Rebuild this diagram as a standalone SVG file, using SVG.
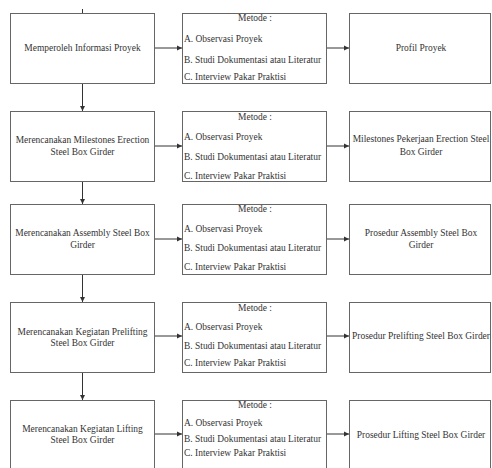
<svg xmlns="http://www.w3.org/2000/svg" width="492" height="468" viewBox="0 0 492 468">
<defs>
<marker id="ah" markerWidth="6" markerHeight="6" refX="5" refY="3" orient="auto" markerUnits="userSpaceOnUse">
<path d="M0,0.5 L5,3 L0,5.5 Z" fill="#333"/>
</marker>
<style>
.box{fill:#fff;stroke:#666;stroke-width:1}
.t{font-family:"Liberation Serif","Times New Roman",serif;font-size:9.45px;fill:#333}
.c{text-anchor:middle}
.ln{stroke:#333;stroke-width:1;fill:none;marker-end:url(#ah)}
</style>
</defs>
<rect width="492" height="468" fill="#fff"/>

<g id="connectors">
<line x1="82.5" y1="9" x2="82.5" y2="13" stroke="#333"/>
<line class="ln" x1="82.5" y1="83" x2="82.5" y2="111"/>
<line class="ln" x1="82.5" y1="181" x2="82.5" y2="204"/>
<line class="ln" x1="82.5" y1="274" x2="82.5" y2="302"/>
<line class="ln" x1="82.5" y1="372" x2="82.5" y2="400"/>
<line class="ln" x1="154" y1="48" x2="182" y2="48"/>
<line class="ln" x1="326" y1="48" x2="349" y2="48"/>
<line class="ln" x1="154" y1="146" x2="182" y2="146"/>
<line class="ln" x1="326" y1="146" x2="349" y2="146"/>
<line class="ln" x1="154" y1="239" x2="182" y2="239"/>
<line class="ln" x1="326" y1="239" x2="349" y2="239"/>
<line class="ln" x1="154" y1="336" x2="182" y2="336"/>
<line class="ln" x1="326" y1="336" x2="349" y2="336"/>
<line class="ln" x1="154" y1="434" x2="182" y2="434"/>
<line class="ln" x1="326" y1="434" x2="349" y2="434"/>
</g>

<g id="step1">
<rect class="box" x="10.5" y="13.5" width="144" height="70"/>
<text class="t c" x="82.5" y="51">Memperoleh Informasi Proyek</text>
</g>
<g id="method1">
<rect class="box" x="182.5" y="13.5" width="144" height="70"/>
<text class="t c" x="255" y="21">Metode :</text>
<text class="t" x="184" y="42">A. Observasi Proyek</text>
<text class="t" x="184" y="63">B. Studi Dokumentasi atau Literatur</text>
<text class="t" x="184" y="80">C. Interview Pakar Praktisi</text>
</g>
<g id="result1">
<rect class="box" x="349.5" y="13.5" width="141" height="70"/>
<text class="t c" x="421" y="51">Profil Proyek</text>
</g>

<g id="step2">
<rect class="box" x="10.5" y="111.5" width="144" height="70"/>
<text class="t c" x="82.5" y="143">Merencanakan Milestones Erection</text>
<text class="t c" x="82.5" y="155">Steel Box Girder</text>
</g>
<g id="method2">
<rect class="box" x="182.5" y="111.5" width="144" height="70"/>
<text class="t c" x="255" y="120">Metode :</text>
<text class="t" x="184" y="140">A. Observasi Proyek</text>
<text class="t" x="184" y="160">B. Studi Dokumentasi atau Literatur</text>
<text class="t" x="184" y="179">C. Interview Pakar Praktisi</text>
</g>
<g id="result2">
<rect class="box" x="349.5" y="111.5" width="141" height="70"/>
<text class="t c" x="421" y="142">Milestones Pekerjaan Erection Steel</text>
<text class="t c" x="421" y="155">Box Girder</text>
</g>

<g id="step3">
<rect class="box" x="10.5" y="204.5" width="144" height="70"/>
<text class="t c" x="82.5" y="236">Merencanakan Assembly Steel Box</text>
<text class="t c" x="82.5" y="248">Girder</text>
</g>
<g id="method3">
<rect class="box" x="182.5" y="204.5" width="144" height="70"/>
<text class="t c" x="255" y="212">Metode :</text>
<text class="t" x="184" y="232">A. Observasi Proyek</text>
<text class="t" x="184" y="251">B. Studi Dokumentasi atau Literatur</text>
<text class="t" x="184" y="270">C. Interview Pakar Praktisi</text>
</g>
<g id="result3">
<rect class="box" x="349.5" y="204.5" width="141" height="70"/>
<text class="t c" x="421" y="236">Prosedur Assembly Steel Box</text>
<text class="t c" x="421" y="248">Girder</text>
</g>

<g id="step4">
<rect class="box" x="10.5" y="302.5" width="144" height="70"/>
<text class="t c" x="82.5" y="335">Merencanakan Kegiatan Prelifting</text>
<text class="t c" x="82.5" y="346">Steel Box Girder</text>
</g>
<g id="method4">
<rect class="box" x="182.5" y="302.5" width="144" height="70"/>
<text class="t c" x="255" y="311">Metode :</text>
<text class="t" x="184" y="330">A. Observasi Proyek</text>
<text class="t" x="184" y="349">B. Studi Dokumentasi atau Literatur</text>
<text class="t" x="184" y="366">C. Interview Pakar Praktisi</text>
</g>
<g id="result4">
<rect class="box" x="349.5" y="302.5" width="141" height="70"/>
<text class="t c" x="421" y="339">Prosedur Prelifting Steel Box Girder</text>
</g>

<g id="step5">
<rect class="box" x="10.5" y="400.5" width="144" height="70"/>
<text class="t c" x="82.5" y="432">Merencanakan Kegiatan Lifting</text>
<text class="t c" x="82.5" y="443">Steel Box Girder</text>
</g>
<g id="method5">
<rect class="box" x="182.5" y="400.5" width="144" height="70"/>
<text class="t c" x="255" y="408">Metode :</text>
<text class="t" x="184" y="426">A. Observasi Proyek</text>
<text class="t" x="184" y="442">B. Studi Dokumentasi atau Literatur</text>
<text class="t" x="184" y="456">C. Interview Pakar Praktisi</text>
</g>
<g id="result5">
<rect class="box" x="349.5" y="400.5" width="141" height="70"/>
<text class="t c" x="421" y="438">Prosedur Lifting Steel Box Girder</text>
</g>
</svg>
